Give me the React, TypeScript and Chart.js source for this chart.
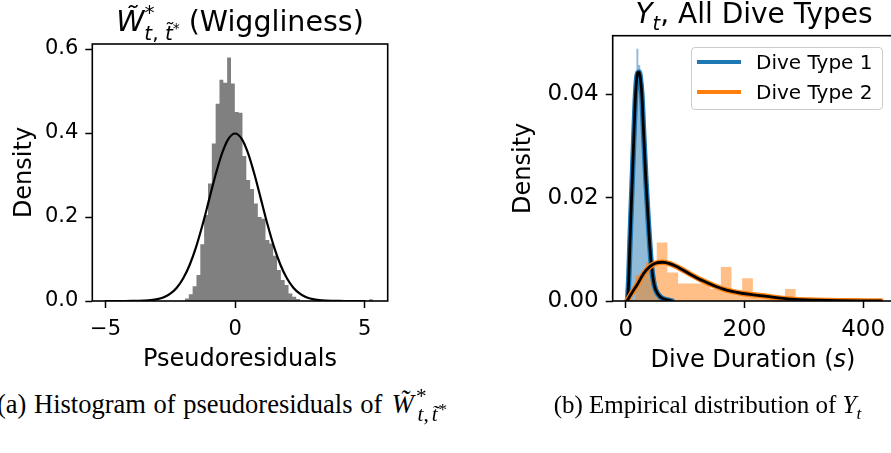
import React, { useEffect, useRef } from "react";
import { Chart, registerables } from "chart.js";

Chart.register(...registerables);

// ---------- Left panel: pseudoresiduals of W (Wiggliness) ----------
const wigBinEdges = [-1.934, -1.786, -1.638, -1.49, -1.342, -1.194, -1.046, -0.898, -0.75, -0.602, -0.454, -0.306, -0.158, -0.01, 0.138, 0.286, 0.434, 0.582, 0.73, 0.878, 1.026, 1.174, 1.322, 1.47, 1.618, 1.766, 1.914, 2.062, 2.21, 2.358, 2.506];
const wigDensity = [0.006, 0.016, 0.035, 0.062, 0.135, 0.205, 0.28, 0.375, 0.47, 0.527, 0.52, 0.58, 0.518, 0.45, 0.448, 0.345, 0.288, 0.267, 0.232, 0.2, 0.196, 0.145, 0.137, 0.108, 0.074, 0.05, 0.038, 0.018, 0.01, 0.005];
const wigOutlierEdges = [5.17, 5.318];
const wigOutlierDensity = [0.004];
const normX = [-5, -4.75, -4.5, -4.25, -4, -3.75, -3.5, -3.25, -3, -2.75, -2.5, -2.25, -2, -1.75, -1.5, -1.25, -1, -0.75, -0.5, -0.25, 0, 0.25, 0.5, 0.75, 1, 1.25, 1.5, 1.75, 2, 2.25, 2.5, 2.75, 3, 3.25, 3.5, 3.75, 4, 4.25, 4.5, 4.75, 5];
const normY = [0, 0, 0, 0, 0.0001, 0.0004, 0.0009, 0.002, 0.0044, 0.0091, 0.0175, 0.0317, 0.054, 0.0863, 0.1295, 0.1826, 0.242, 0.3011, 0.3521, 0.3867, 0.3989, 0.3867, 0.3521, 0.3011, 0.242, 0.1826, 0.1295, 0.0863, 0.054, 0.0317, 0.0175, 0.0091, 0.0044, 0.002, 0.0009, 0.0004, 0.0001, 0, 0, 0, 0];
const wigXTicks = [-5, 0, 5];
const wigYTicks = [0, 0.2, 0.4, 0.6];

// ---------- Right panel: dive durations ----------
const dive1Edges = [2, 5.2, 8.4, 11.6, 14.8, 18, 21.2, 24.4, 27.6, 30.8, 34, 37.2, 40.4, 43.6, 46.8, 50, 53.2, 56.4, 59.6, 62.8, 66, 69.2, 72.4];
const dive1Density = [0.0005, 0.008, 0.019, 0.03, 0.04, 0.0488, 0.0457, 0.041, 0.034, 0.025, 0.018, 0.011, 0.0128, 0.004, 0.002, 0.003, 0.001, 0.0015, 0, 0.0005, 0.0003, 0.0005];
const dive2Edges = [-1.8, 16.2, 34.2, 52.2, 70.2, 88.2, 106.2, 124.2, 142.2, 160.2, 178.2, 196.2, 214.2, 232.2, 250.2, 268.2, 286.2, 304.2, 322.2, 340.2, 358.2, 376.2, 394.2, 412.2, 430.2];
const dive2Density = [0.0003, 0.005, 0.0075, 0.0113, 0.0055, 0.0034, 0.0034, 0.0034, 0.0023, 0.0066, 0.0015, 0.0044, 0.0012, 0.0008, 0.0008, 0.0023, 0.0003, 0.0003, 0.0002, 0.0002, 0.0003, 0.0002, 0.0002, 0.0002];
const dive1CurveX = [3, 5, 7, 10, 13, 16, 18.5, 20.5, 22.5, 24.5, 27, 30, 34, 38, 42.5, 48, 55, 62, 70, 78];
const dive1CurveY = [0, 0.004, 0.011, 0.0205, 0.0298, 0.0388, 0.0431, 0.0442, 0.0443, 0.0432, 0.0402, 0.0328, 0.0232, 0.0153, 0.0078, 0.0031, 0.0012, 0.0005, 0.0002, 0];
const dive2CurveX = [2, 10, 20, 30, 40, 50, 62, 75, 90, 110, 130, 150, 170, 195, 215, 230, 257, 285, 320, 360, 400, 430];
const dive2CurveY = [0, 0.0015, 0.0033, 0.0053, 0.0066, 0.0073, 0.0075, 0.0072, 0.0064, 0.0051, 0.0039, 0.0029, 0.0021, 0.0015, 0.0012, 0.001, 0.0006, 0.0003, 0.00015, 0.00005, 0.00002, 0];
const durXTicks = [0, 200, 400];
const durYTicks = [0, 0.02, 0.04];
const legendLabels = ["Dive Type 1", "Dive Type 2"];

const SANS = "'DejaVu Sans', sans-serif";
const SERIF = "'Liberation Serif', 'Times New Roman', serif";
const BLUE = "#1f77b4";
const ORANGE = "#ff7f0e";

function stepPoints(edges: number[], heights: number[]) {
  const pts = [{ x: edges[0], y: 0 }];
  heights.forEach((h, i) => pts.push({ x: edges[i], y: h }));
  pts.push({ x: edges[edges.length - 1], y: heights[heights.length - 1] });
  pts.push({ x: edges[edges.length - 1], y: 0 });
  return pts;
}
function zip(xs: number[], ys: number[]) {
  return xs.map((x, i) => ({ x, y: ys[i] }));
}

const framePlugin = {
  id: "frame",
  afterDraw(chart: any) {
    const { ctx, chartArea: a } = chart;
    ctx.save();
    ctx.strokeStyle = "#000";
    ctx.lineWidth = 1.6;
    ctx.strokeRect(a.left, a.top, a.right - a.left, a.bottom - a.top);
    ctx.restore();
  },
};

// "order": higher values are drawn first (underneath)
function histSet(data: any[], color: string, order: number) {
  return {
    data,
    order,
    stepped: true,
    fill: "origin",
    backgroundColor: color,
    borderColor: "rgba(0,0,0,0)",
    borderWidth: 0,
    pointRadius: 0,
  };
}
function curveSet(data: any[], color: string, width: number, order: number) {
  return {
    data,
    order,
    fill: false,
    borderColor: color,
    borderWidth: width,
    pointRadius: 0,
    cubicInterpolationMode: "monotone",
    borderCapStyle: "round",
    borderJoinStyle: "round",
  };
}

function axis(opts: {
  min: number; max: number; ticks: number[]; fmt: (v: number) => string;
  tickSize: number; fit: (s: any) => void; title?: any; pad?: number;
}) {
  return {
    type: "linear",
    min: opts.min,
    max: opts.max,
    afterBuildTicks: (s: any) => { s.ticks = opts.ticks.map((v) => ({ value: v })); },
    afterFit: opts.fit,
    ticks: {
      callback: (v: any) => opts.fmt(Number(v)),
      font: { family: SANS, size: opts.tickSize },
      color: "#000",
      padding: opts.pad ?? 7,
      autoSkip: false,
      maxRotation: 0,
      minRotation: 0,
    },
    grid: {
      display: true,
      drawOnChartArea: false,
      drawTicks: true,
      tickLength: 7,
      tickWidth: 1.5,
      tickColor: "#000",
      color: "#000",
    },
    border: { display: false },
    title: opts.title || { display: false },
  };
}

const minusFmt = (v: number) => (v < 0 ? "\u2212" + Math.abs(v) : String(v));

function WigChart() {
  const ref = useRef<HTMLCanvasElement>(null);
  useEffect(() => {
    const chart = new Chart(ref.current as HTMLCanvasElement, {
      type: "line",
      data: {
        datasets: [
          histSet(stepPoints(wigBinEdges, wigDensity), "#808080", 3),
          histSet(stepPoints(wigOutlierEdges, wigOutlierDensity), "#808080", 2),
          curveSet(zip(normX, normY), "#000", 2.2, 0),
        ] as any,
      },
      options: {
        animation: false,
        responsive: false,
        devicePixelRatio: 1,
        events: [],
        layout: { padding: { left: 0, top: 44, right: 52.3, bottom: 0 } },
        plugins: { legend: { display: false }, tooltip: { enabled: false }, title: { display: false } },
        scales: {
          x: axis({
            min: -5.51, max: 5.89, ticks: wigXTicks, fmt: minusFmt, tickSize: 21, pad: 9,
            fit: (s: any) => { s.height = 79; },
            title: { display: true, text: "Pseudoresiduals", color: "#000", font: { family: SANS, size: 24, lineHeight: 1.2 }, padding: { top: 0, bottom: 5.6 } },
          }),
          y: axis({
            min: 0, max: 0.612, ticks: wigYTicks, fmt: (v) => v.toFixed(1), tickSize: 21,
            fit: (s: any) => { s.width = 92.3; },
            title: { display: true, text: "Density", color: "#000", font: { family: SANS, size: 24, lineHeight: 1.2 }, padding: { top: 10, bottom: 0 } },
          }),
        } as any,
      },
      plugins: [framePlugin],
    });
    return () => chart.destroy();
  }, []);
  return <canvas ref={ref} width={440} height={380} style={{ position: "absolute", left: 0, top: 0 }} />;
}

function DiveChart() {
  const ref = useRef<HTMLCanvasElement>(null);
  useEffect(() => {
    const chart = new Chart(ref.current as HTMLCanvasElement, {
      type: "line",
      data: {
        datasets: [
          histSet(stepPoints(dive1Edges, dive1Density), "rgba(31,119,180,0.5)", 6),
          histSet(stepPoints(dive2Edges, dive2Density), "rgba(255,127,14,0.5)", 5),
          curveSet(zip(dive1CurveX, dive1CurveY), BLUE, 5.5, 4),
          curveSet(zip(dive1CurveX, dive1CurveY), "#000", 2.8, 3),
          curveSet(zip(dive2CurveX, dive2CurveY), ORANGE, 5.5, 2),
          curveSet(zip(dive2CurveX, dive2CurveY), "#000", 2.8, 1),
        ] as any,
      },
      options: {
        animation: false,
        responsive: false,
        devicePixelRatio: 1,
        events: [],
        layout: { padding: { left: 50, top: 35.7, right: 16, bottom: 0 } },
        plugins: { legend: { display: false }, tooltip: { enabled: false }, title: { display: false } },
        scales: {
          x: axis({
            min: -22, max: 452, ticks: durXTicks, fmt: (v) => String(v), tickSize: 23, pad: 8,
            fit: (s: any) => { s.height = 79; },
          }),
          y: axis({
            min: 0, max: 0.05135, ticks: durYTicks, fmt: (v) => v.toFixed(2), tickSize: 23,
            fit: (s: any) => { s.width = 112.7; },
            title: { display: true, text: "Density", color: "#000", font: { family: SANS, size: 24, lineHeight: 1.2 }, padding: { top: 9, bottom: 0 } },
          }),
        } as any,
      },
      plugins: [framePlugin],
    });
    return () => chart.destroy();
  }, []);
  return <canvas ref={ref} width={460} height={380} style={{ position: "absolute", left: 450, top: 0 }} />;
}

const abs = (o: any) => ({ position: "absolute" as const, whiteSpace: "nowrap" as const, ...o });

export default function App() {
  return (
    <div style={{ position: "fixed", left: 0, top: 0, width: 891, height: 453, overflow: "hidden", background: "#fff", color: "#000" }}>
      <WigChart />
      <DiveChart />

      {/* Left title */}
      <div style={abs({ left: 0, width: 480, top: 5, textAlign: "center", fontFamily: SANS, fontSize: 28.5, lineHeight: "34px" })}>
        <span style={{ fontStyle: "italic" }}>W&#771;</span>
        <span style={{ position: "relative", top: -12, fontSize: "0.7em" }}>*</span>
        <span style={{ position: "relative", top: 9, fontSize: "0.7em", marginLeft: -10 }}>
          <i>t</i>, <i>t&#771;</i>
          <span style={{ position: "relative", top: -7, fontSize: "0.7em" }}>*</span>
        </span>
        <span>{"  (Wiggliness)"}</span>
      </div>

      {/* Right title */}
      <div style={abs({ left: 514, width: 480, top: -3.4, textAlign: "center", fontFamily: SANS, fontSize: 28, lineHeight: "34px" })}>
        <i>Y</i>
        <span style={{ position: "relative", top: 7, fontSize: "0.7em" }}><i>t</i></span>
        <span>, All Dive Types</span>
      </div>

      {/* Right x-axis label */}
      <div style={abs({ left: 453, width: 600, top: 343.7, textAlign: "center", fontFamily: SANS, fontSize: 24, lineHeight: "30px" })}>
        Dive Duration (<i>s</i>)
      </div>

      {/* Legend */}
      <div style={abs({ left: 691, top: 46.7, width: 191.7, height: 63.3, boxSizing: "border-box", border: "1px solid #cccccc", borderRadius: 4, background: "rgba(255,255,255,0.8)" })} />
      <div style={abs({ left: 697.3, top: 60.3, width: 43.4, height: 4, background: BLUE })} />
      <div style={abs({ left: 697.3, top: 89.7, width: 43.4, height: 4, background: ORANGE })} />
      <div style={abs({ left: 756, top: 50, fontFamily: SANS, fontSize: 20, lineHeight: "24px" })}>{legendLabels[0]}</div>
      <div style={abs({ left: 756, top: 79.5, fontFamily: SANS, fontSize: 20, lineHeight: "24px" })}>{legendLabels[1]}</div>

      {/* Captions */}
      <div style={abs({ left: -3, top: 389, fontFamily: SERIF, fontSize: 26.5, lineHeight: "30px", wordSpacing: 1 })}>
        (a) Histogram of pseudoresiduals of <i style={{ marginLeft: 2 }}>W&#771;</i>
        <span style={{ position: "relative", top: -10, fontSize: "0.8em", marginLeft: 2 }}>*</span>
        <span style={{ position: "relative", top: 8, fontSize: "0.8em", marginLeft: -9 }}>
          <i>t</i>,<span style={{ marginLeft: 3 }} /><i>t&#771;</i>
          <span style={{ position: "relative", top: -6, fontSize: "0.8em", marginLeft: 1 }}>*</span>
        </span>
      </div>
      <div style={abs({ left: 407.5, width: 600, top: 390, textAlign: "center", fontFamily: SERIF, fontSize: 25, lineHeight: "30px" })}>
        (b) Empirical distribution of <i>Y</i>
        <span style={{ position: "relative", top: 6, fontSize: "0.7em" }}><i>t</i></span>
      </div>
    </div>
  );
}
